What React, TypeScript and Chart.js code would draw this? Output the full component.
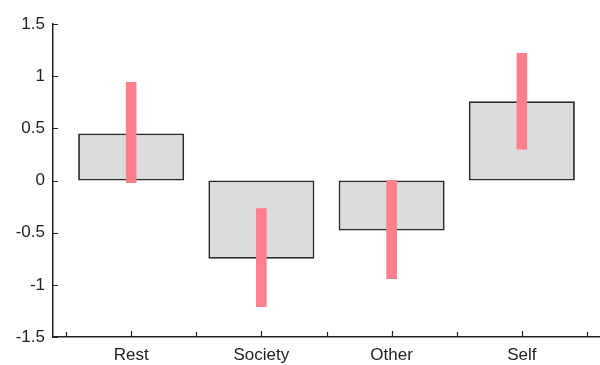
import React, { useEffect, useRef } from 'react';
import { Chart, registerables } from 'chart.js';

Chart.register(...registerables);

const categories = ['Rest', 'Society', 'Other', 'Self'];
const meanValues = [0.45, -0.75, -0.48, 0.76];
const rangeLow = [-0.02, -1.21, -0.94, 0.3];
const rangeHigh = [0.94, -0.27, 0.0, 1.22];
const yTickValues = [-1.5, -1, -0.5, 0, 0.5, 1, 1.5];

const FONT_FAMILY = '"Liberation Sans", Arial, Helvetica, sans-serif';
const AXIS_COLOR = '#222222';

const inwardTicks = {
  id: 'inwardTicks',
  afterDatasetsDraw(chart: any) {
    const { ctx, chartArea, scales } = chart;
    ctx.save();
    ctx.strokeStyle = AXIS_COLOR;
    ctx.lineWidth = 1.2;
    ctx.beginPath();
    yTickValues.forEach((v) => {
      const y = Math.round(scales.y.getPixelForValue(v)) + 0.5;
      ctx.moveTo(chartArea.left, y);
      ctx.lineTo(chartArea.left + 5, y);
    });
    for (let i = 0; i <= categories.length; i++) {
      const xb = Math.round(scales.x.getPixelForValue(i + 0.5)) + 0.5;
      ctx.moveTo(xb, chartArea.bottom);
      ctx.lineTo(xb, chartArea.bottom - 5);
      if (i < categories.length) {
        const xc = Math.round(scales.x.getPixelForValue(i + 1)) + 0.5;
        ctx.moveTo(xc, chartArea.bottom);
        ctx.lineTo(xc, chartArea.bottom - 6);
      }
    }
    ctx.stroke();
    ctx.restore();
  },
};

export default function App() {
  const canvasRef = useRef<HTMLCanvasElement | null>(null);

  useEffect(() => {
    const canvas = canvasRef.current;
    if (!canvas) return;
    const chart = new Chart(canvas, {
      type: 'bar',
      data: {
        datasets: [
          {
            label: 'Range',
            data: categories.map((_, i) => ({ x: i + 1, y: [rangeLow[i], rangeHigh[i]] })) as any,
            backgroundColor: '#FF7F8C',
            borderWidth: 0,
            barThickness: 10,
            grouped: false,
            order: 1,
          } as any,
          {
            label: 'Mean',
            data: categories.map((_, i) => ({ x: i + 1, y: meanValues[i] })) as any,
            backgroundColor: '#DCDCDC',
            borderColor: '#2a2a2a',
            borderWidth: 1.8,
            borderSkipped: false,
            barPercentage: 0.814,
            categoryPercentage: 1,
            grouped: false,
            order: 2,
          } as any,
        ],
      },
      options: {
        animation: false,
        responsive: false,
        layout: { padding: { top: 24, right: 0, left: 0, bottom: 0 } },
        plugins: {
          legend: { display: false },
          tooltip: { enabled: false },
        },
        scales: {
          x: {
            type: 'linear',
            min: 0.4,
            max: 4.6,
            offset: false,
            grid: { display: false, drawTicks: false, offset: false },
            border: { display: true, color: AXIS_COLOR, width: 1.5 },
            afterBuildTicks: (scale: any) => {
              scale.ticks = categories.map((_, i) => ({ value: i + 1 }));
            },
            afterFit: (scale: any) => {
              scale.height = 28;
            },
            ticks: {
              autoSkip: false,
              maxRotation: 0,
              padding: 8,
              color: AXIS_COLOR,
              font: { family: FONT_FAMILY, size: 17 },
              callback: (v: any) => {
                const idx = Math.round(Number(v)) - 1;
                return categories[idx] ?? '';
              },
            },
          },
          y: {
            type: 'linear',
            min: -1.5,
            max: 1.5,
            grid: { display: false, drawTicks: false },
            border: { display: true, color: AXIS_COLOR, width: 1.5 },
            afterBuildTicks: (scale: any) => {
              scale.ticks = yTickValues.map((v) => ({ value: v }));
            },
            afterFit: (scale: any) => {
              scale.width = 53;
            },
            ticks: {
              padding: 8,
              color: AXIS_COLOR,
              font: { family: FONT_FAMILY, size: 17 },
              callback: (v: any) => String(v),
            },
          },
        },
      } as any,
      plugins: [inwardTicks],
    });
    return () => chart.destroy();
  }, []);

  return (
    <canvas
      ref={canvasRef}
      width={600}
      height={365}
      style={{ position: 'absolute', left: 0, top: 0, width: 600, height: 365, display: 'block' }}
    />
  );
}
